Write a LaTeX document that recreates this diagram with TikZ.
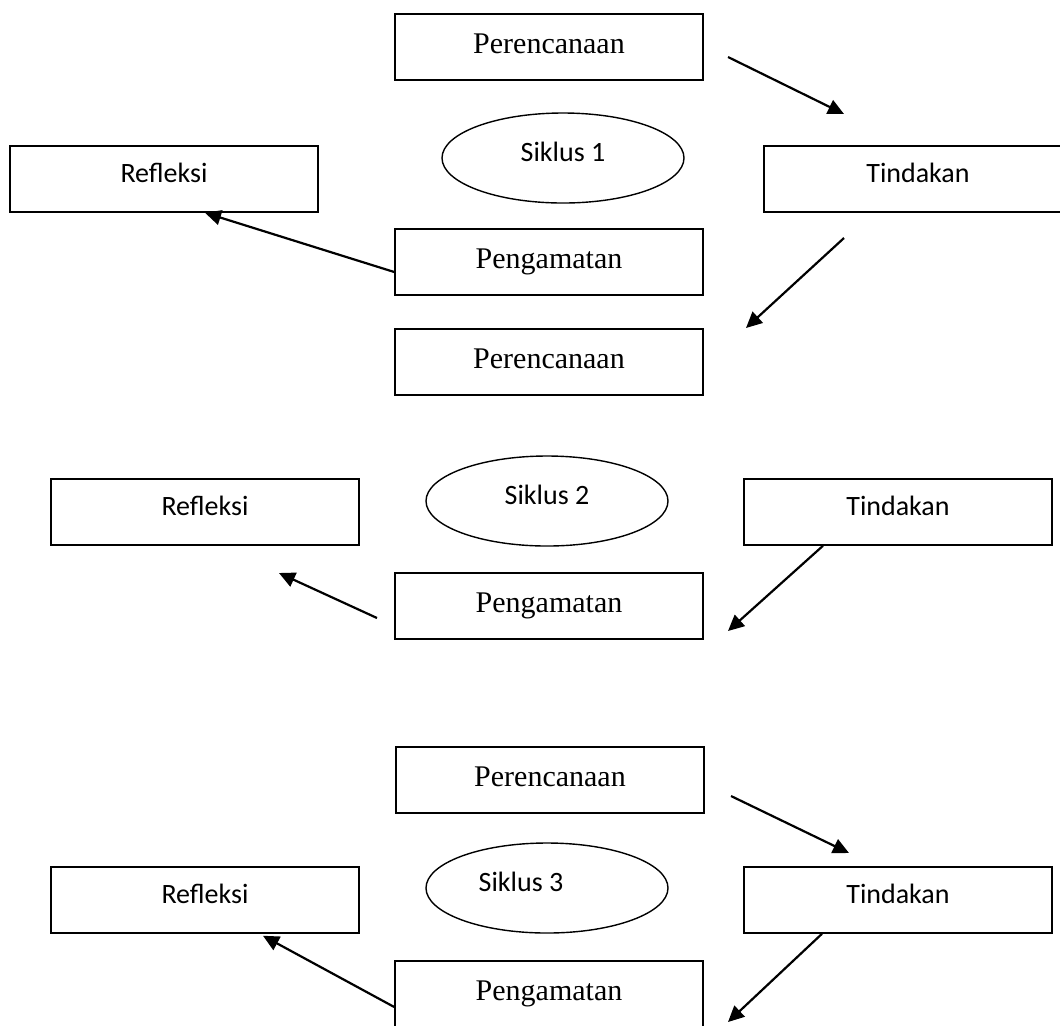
\documentclass[tikz,border=0pt]{standalone}
\usepackage{fontspec}
\setmainfont{Liberation Serif}
\newfontfamily\calibrifont{Carlito}
\usetikzlibrary{shapes.geometric, arrows.meta, calc}

\begin{document}
\begin{tikzpicture}[x=0.5pt, y=-0.5pt,
    tahap/.style={draw, line width=0.75pt, minimum width=154pt, minimum height=33pt, inner sep=0pt},
    serif/.style={tahap, font=\fontsize{15}{18}\selectfont, text height=10pt, text depth=4pt},
    sans/.style={tahap, font=\calibrifont\fontsize{14}{17}\selectfont, text height=9.5pt, text depth=6pt},
    siklus/.style={draw, ellipse, line width=0.7pt, minimum width=121pt, minimum height=45pt,
        inner sep=0pt, font=\calibrifont\fontsize{14}{17}\selectfont, text height=9.5pt, text depth=6pt},
    panah/.style={-{Triangle[length=8pt, width=7.5pt]}, line width=1.1pt}]

    \useasboundingbox (0,0) rectangle (1060,1025);

    % -------------------------
    % Siklus 1
    % -------------------------
    \node[serif] (per1) at (549,47) {Perencanaan};
    \node[siklus] (sik1) at (563,158) {Siklus 1};
    \node[sans] (ref1) at (164,179) {Refleksi};
    \node[sans] (tin1) at (918,179) {Tindakan};
    \node[serif] (pen1) at (549,262) {Pengamatan};

    \coordinate (a1) at (728,57);
    \coordinate (b1) at (844,114);
    \coordinate (c1) at (844,238);
    \coordinate (d1) at (746,328);

    \draw[panah] (a1) -- (b1);
    \draw[panah] (c1) -- (d1);
    \draw[panah] ($(pen1.west)+(0,10)$) -- ($(ref1.south)+(41,0)$);

    % -------------------------
    % Siklus 2
    % -------------------------
    \node[serif] (per2) at (549,362) {Perencanaan};
    \node[siklus] (sik2) at (547,501) {Siklus 2};
    \node[sans] (ref2) at (205,512) {Refleksi};
    \node[sans] (tin2) at (898,512) {Tindakan};
    \node[serif] (pen2) at (549,606) {Pengamatan};

    \coordinate (a2) at (728,631);
    \coordinate (b2) at (377,618);
    \coordinate (c2) at (279,573);

    \draw[panah] ($(tin2.south)+(-75,0)$) -- (a2);
    \draw[panah] (b2) -- (c2);

    % -------------------------
    % Siklus 3
    % -------------------------
    \node[serif] (per3) at (550,780) {Perencanaan};
    \node[siklus] (sik3) at (547,888) {Siklus 3\hspace*{26pt}};
    \node[sans] (ref3) at (205,900) {Refleksi};
    \node[sans] (tin3) at (898,900) {Tindakan};
    \node[serif] (pen3) at (549,994) {Pengamatan};

    \coordinate (a3) at (731,796);
    \coordinate (b3) at (849,853);
    \coordinate (c3) at (728,1022);

    \draw[panah] (a3) -- (b3);
    \draw[panah] ($(tin3.south)+(-76,0)$) -- (c3);
    \draw[panah] ($(pen3.west)+(0,13)$) -- ($(ref3.south)+(58,2)$);

\end{tikzpicture}
\end{document}
